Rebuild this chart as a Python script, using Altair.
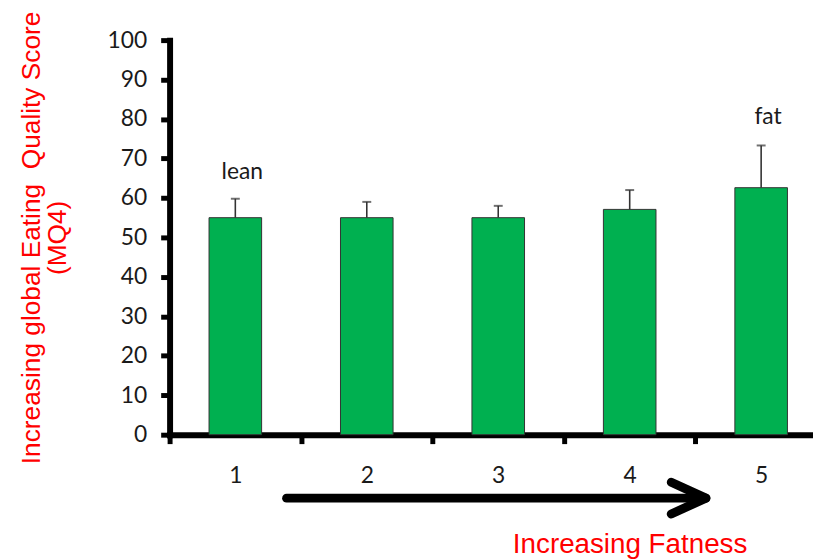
import altair as alt
import pandas as pd

# ---- data ----
groups = ["1", "2", "3", "4", "5"]
means = [55.0, 55.0, 55.0, 57.1, 62.6]
errors = [4.8, 4.0, 3.0, 4.9, 10.7]

ann_groups = ["1", "5"]
ann_text = ["lean", "fat"]
ann_y = [66.5, 80.5]

y_ticks = [0, 10, 20, 30, 40, 50, 60, 70, 80, 90, 100]

df = pd.DataFrame({
    "group": groups,
    "mean": means,
    "top": [m + e for m, e in zip(means, errors)],
})
ann = pd.DataFrame({"group": ann_groups, "label": ann_text, "y": ann_y})
one = pd.DataFrame({"k": [0]})

RED = "#ff0000"
INK = "#1a1a1a"

x_scale = alt.Scale(domain=groups, range=[0, 663], paddingInner=0, paddingOuter=0)
x_axis = alt.Axis(
    title="Increasing Fatness",
    titleFont="Liberation Sans", titleFontSize=28, titleFontWeight="normal",
    titleColor=RED, titleX=464, titleY=111, titleAlign="center",
    titleBaseline="middle", titleAnchor="start",
    labelFont="Lato", labelFontSize=23, labelColor=INK, labelAngle=0,
    labelPadding=21, labelOverlap=False,
    tickBand="extent", tickSize=9, tickWidth=5, tickColor="black",
    domainColor="black", domainWidth=6, domainCap="square",
    grid=False,
)

y_scale = alt.Scale(domain=[0, 100], nice=False)
y_axis = alt.Axis(
    values=y_ticks, tickCount=11,
    title=["Increasing global Eating\u00a0 Quality Score", "(MQ4)"],
    titleFont="Liberation Sans", titleFontSize=26.5, titleFontWeight="normal",
    titleColor=RED, titleX=-152, titleY=199, titleAlign="center",
    titleBaseline="top", titleAngle=-90, titleLineHeight=26, titleAnchor="start",
    labelFont="Lato", labelFontSize=23, labelColor=INK, labelPadding=14,
    labelOverlap=False, labelBaseline="middle",
    tickSize=9, tickWidth=5, tickColor="black",
    domainColor="black", domainWidth=6, domainCap="square",
    grid=False,
)


def X():
    return alt.X("group:N", sort=groups, scale=x_scale, axis=x_axis)


def Y(field):
    return alt.Y(field, scale=y_scale, axis=y_axis)


bars = alt.Chart(df).mark_bar(
    color="#00b050", stroke="#333333", strokeWidth=1,
    width=alt.RelativeBandSize(0.4),
).encode(x=X(), y=Y("mean:Q"))

err = alt.Chart(df).mark_rule(color="#333333", strokeWidth=1.6).encode(
    x=X(), y=Y("mean:Q"), y2=alt.Y2("top:Q"),
)

caps = alt.Chart(df).mark_tick(color="#333333", thickness=2, size=9).encode(
    x=X(), y=Y("top:Q"),
)

labels = alt.Chart(ann).mark_text(
    font="Lato", fontSize=23, color=INK, dx=7, baseline="middle"
).encode(x=X(), y=Y("y:Q"), text="label:N")

# decorative arrow under the x axis
shaft = alt.Chart(one).mark_rule(color="black", strokeWidth=9, strokeCap="round").encode(
    x=alt.value(118), x2=alt.value(536), y=alt.value(462), y2=alt.value(462)
)
arm1 = alt.Chart(one).mark_rule(color="black", strokeWidth=9, strokeCap="round").encode(
    x=alt.value(506), x2=alt.value(541), y=alt.value(446), y2=alt.value(462)
)
arm2 = alt.Chart(one).mark_rule(color="black", strokeWidth=9, strokeCap="round").encode(
    x=alt.value(506), x2=alt.value(541), y=alt.value(478), y2=alt.value(462)
)

chart = alt.layer(bars, err, caps, labels, shaft, arm1, arm2).properties(
    width=649,
    height=398,
    autosize=alt.AutoSizeParams(type="none"),
    padding={"left": 163, "top": 30, "right": 0, "bottom": 124},
    background="white",
).configure_view(stroke=None)

chart.save("out.html", embed_options={"renderer": "svg", "actions": False})
